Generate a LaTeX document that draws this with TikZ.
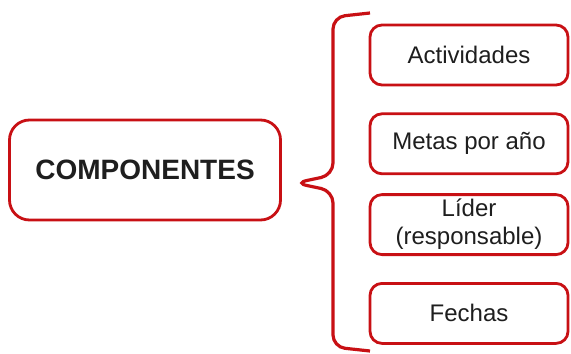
\documentclass[tikz,border=0pt]{standalone}
\usepackage{fontspec}
\setmainfont{Liberation Sans}
\usepackage{xcolor}
\usetikzlibrary{positioning}
\definecolor{boxred}{RGB}{200,16,20}
\definecolor{txtgray}{RGB}{30,30,30}
\tikzset{
x=0.5pt, y=-0.5pt, % one unit is one pixel of the reference
node distance=13pt, % gap between the boxes on the right
compbox/.style={draw=boxred, line width=1.4pt, rounded corners=10pt, fill=white,
  minimum width=135.5pt, minimum height=50pt, inner sep=0pt,
  font=\fontsize{14}{16}\selectfont\bfseries, text=txtgray},
itembox/.style={draw=boxred, line width=1.4pt, rounded corners=6pt, fill=white,
  minimum width=99pt, minimum height=30pt, inner sep=0pt, align=center,
  font=\fontsize{12}{14}\selectfont, text=txtgray},
brace/.style={draw=boxred, line width=1.6pt, rounded corners=6pt},
}
\begin{document}
\begin{tikzpicture}
        \useasboundingbox (0,0) rectangle (571,353);
        \node[compbox] (comp) at (145,170) {COMPONENTES};

        \node[itembox] (act) at (469,55) {Actividades};
        \node[itembox, below=of act] (met) {Metas por año};
        \node[itembox, below=9pt of met] (lid) {Líder\\(responsable)};
        \node[itembox, below=of lid] (fec) {Fechas};

        % the brace
        \draw[brace] (370,13) -- (333,17) -- (333,175) -- (295,183)
                     -- (333,191) -- (333,347) -- (370,351);
    \end{tikzpicture}
\end{document}
